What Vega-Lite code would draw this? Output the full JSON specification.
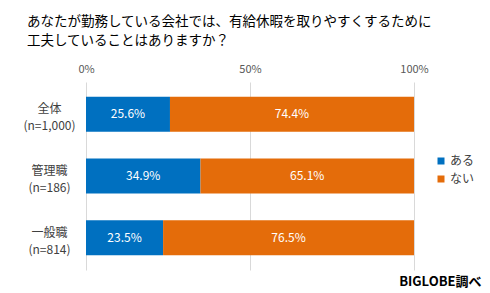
{
  "$schema": "https://vega.github.io/schema/vega-lite/v6.json",
  "autosize": {"type": "none"},
  "width": 328,
  "height": 188,
  "padding": {"left": 86, "top": 82, "right": 76, "bottom": 23},
  "background": "white",
  "config": {
    "font": "Noto Sans CJK JP",
    "view": {"stroke": null}
  },
  "title": {
    "text": ["あなたが勤務している会社では、有給休暇を取りやすくするために", "工夫していることはありますか？"],
    "anchor": "start",
    "frame": "group",
    "dx": -59,
    "fontSize": 13.5,
    "fontWeight": "normal",
    "color": "#000000",
    "lineHeight": 19,
    "offset": 16
  },
  "data": {
    "values": [
      {"group": "全体 (n=1,000)", "answer": "ある", "value": 25.6},
      {"group": "全体 (n=1,000)", "answer": "ない", "value": 74.4},
      {"group": "管理職 (n=186)", "answer": "ある", "value": 34.9},
      {"group": "管理職 (n=186)", "answer": "ない", "value": 65.1},
      {"group": "一般職 (n=814)", "answer": "ある", "value": 23.5},
      {"group": "一般職 (n=814)", "answer": "ない", "value": 76.5}
    ]
  },
  "transform": [
    {"stack": "value", "groupby": ["group"], "sort": [{"field": "answer", "order": "ascending"}], "as": ["v0", "v1"]},
    {"calculate": "(datum.v0 + datum.v1) / 2", "as": "mid"},
    {"calculate": "format(datum.value, '.1f') + '%'", "as": "label"}
  ],
  "encoding": {
    "y": {
      "field": "group",
      "type": "nominal",
      "sort": ["全体 (n=1,000)", "管理職 (n=186)", "一般職 (n=814)"],
      "scale": {"paddingInner": 0.43, "paddingOuter": 0.237},
      "axis": {
        "title": null,
        "domain": false,
        "ticks": false,
        "labelExpr": "split(datum.label, ' ')",
        "labelAlign": "center",
        "labelBaseline": "middle",
        "labelPadding": 37,
        "labelLineHeight": 17,
        "labelFontSize": 12,
        "labelColor": "#404040",
        "labelOffset": -5
      }
    }
  },
  "layer": [
    {
      "mark": {"type": "bar"},
      "encoding": {
        "x": {
          "field": "v0",
          "type": "quantitative",
          "scale": {"domain": [0, 100]},
          "axis": {
            "orient": "top",
            "values": [0, 50, 100],
            "labelExpr": "datum.value + '%'",
            "title": null,
            "domain": false,
            "ticks": false,
            "grid": true,
            "gridColor": "#D9D9D9",
            "gridWidth": 1,
            "labelFontSize": 11,
            "labelColor": "#595959",
            "labelPadding": 8,
            "labelFlush": false
          }
        },
        "x2": {"field": "v1"},
        "color": {
          "field": "answer",
          "type": "nominal",
          "scale": {"domain": ["ある", "ない"], "range": ["#0070C0", "#E46C0A"]},
          "legend": {
            "title": null,
            "orient": "none",
            "legendX": 349,
            "legendY": 73,
            "symbolType": "square",
            "symbolSize": 49,
            "symbolStrokeWidth": 0,
            "labelFontSize": 12,
            "labelColor": "#404040",
            "labelOffset": 3,
            "rowPadding": 6
          }
        }
      }
    },
    {
      "mark": {"type": "text", "color": "white", "fontSize": 12, "align": "center", "baseline": "middle"},
      "encoding": {
        "x": {
          "field": "mid",
          "type": "quantitative",
          "axis": {
            "orient": "bottom",
            "title": "BIGLOBE調べ",
            "labels": false,
            "ticks": false,
            "domain": false,
            "grid": false,
            "titleFontSize": 13,
            "titleFontWeight": "bold",
            "titleColor": "#000000",
            "titleAlign": "right",
            "titleBaseline": "middle",
            "titleX": 395,
            "titleY": 11
          }
        },
        "text": {"field": "label", "type": "nominal"},
        "color": {"value": "white"}
      }
    }
  ],
  "resolve": {"axis": {"x": "independent"}}
}
